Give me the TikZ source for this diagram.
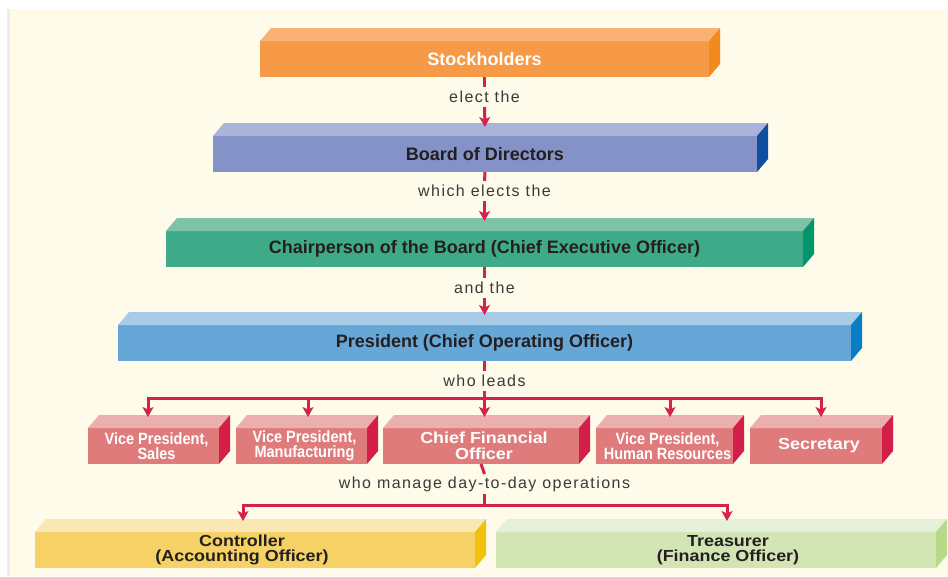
\documentclass[tikz,border=0pt]{standalone}
\usepackage{fontspec}
\setmainfont{Liberation Sans}
\newfontfamily\labfont[LetterSpace=9]{Liberation Sans}
\newfontfamily\widefont[FakeStretch=1.12]{Liberation Sans}
\newfontfamily\narrowfont[FakeStretch=0.89]{Liberation Sans}
\usetikzlibrary{calc,arrows.meta}
\definecolor{bgcream}{HTML}{FEFBEA}
\definecolor{bgstrip}{HTML}{ECECEC}
\definecolor{txtdark}{HTML}{231F20}
\definecolor{lbltxt}{HTML}{3A3A3A}
\definecolor{arrred}{HTML}{D4224B}
\definecolor{orF}{HTML}{F79A48}\definecolor{orT}{HTML}{F9B274}\definecolor{orS}{HTML}{F28A1E}
\definecolor{buF}{HTML}{8592C8}\definecolor{buT}{HTML}{AAB3DA}\definecolor{buS}{HTML}{0D4EA0}
\definecolor{grF}{HTML}{3FAA88}\definecolor{grT}{HTML}{80C2A8}\definecolor{grS}{HTML}{00956A}
\definecolor{blF}{HTML}{67A7D8}\definecolor{blT}{HTML}{A8CBE8}\definecolor{blS}{HTML}{0A7EC2}
\definecolor{pkF}{HTML}{E07B7B}\definecolor{pkT}{HTML}{EBB0AE}\definecolor{pkS}{HTML}{D21E48}
\definecolor{ylF}{HTML}{F6D165}\definecolor{ylT}{HTML}{F9E7B4}\definecolor{ylS}{HTML}{F1C10E}
\definecolor{lgF}{HTML}{D3E5B5}\definecolor{lgT}{HTML}{E5F0D8}\definecolor{lgS}{HTML}{B5DA8A}
\tikzset{
  blk/.style={inner sep=0pt, outer sep=0pt, align=center},
  bigtxt/.style={text=txtdark, font=\fontsize{18}{20}\selectfont\bfseries},
  bigwhite/.style={text=white, font=\fontsize{18}{20}\selectfont\bfseries},
  vptxt/.style={text=white, font=\narrowfont\fontsize{16.3}{15.5}\selectfont\bfseries},
  pinkwide/.style={text=white, font=\widefont\fontsize{16}{16}\selectfont\bfseries},
  bottxt/.style={text=txtdark, font=\widefont\fontsize{16}{15}\selectfont\bfseries},
  lbl/.style={inner sep=0pt, outer sep=0pt, minimum height=20pt, text=lbltxt, font=\labfont\fontsize{16}{18}\selectfont},
  conn/.style={draw=arrred, line width=3pt},
  arrowc/.style={conn, -{Stealth[length=10pt,width=11pt,inset=2.5pt]}}
}
\newcommand\blockbox[9]{%
  \node[blk, fill=#5, minimum width=#3, minimum height=#4, #8] (#1) at #2 {#9};
  \fill[#6] (#1.north west) -- ++(11,-13) -- ($(#1.north east)+(11,-13)$) -- (#1.north east) -- cycle;
  \fill[#7] (#1.north east) -- ++(11,-13) -- ++(0,#4) -- (#1.south east) -- cycle;
}
\begin{document}
\begin{tikzpicture}[x=1pt,y=-1pt]
\useasboundingbox (0,0) rectangle (948,576);
\fill[white] (0,0) rectangle (948,576);
\fill[bgstrip] (7,9) rectangle (10,576);
\fill[bgcream] (10,9) rectangle (948,576);

\blockbox{stock}{(484.5,59)}{449}{36}{orF}{orT}{orS}{bigwhite}{Stockholders}
\blockbox{board}{(485,154)}{544}{36}{buF}{buT}{buS}{bigtxt}{Board of Directors}
\blockbox{chair}{(484.5,249)}{637}{36}{grF}{grT}{grS}{bigtxt}{Chairperson of the Board (Chief Executive Officer)}
\blockbox{pres}{(484.5,343)}{733}{36}{blF}{blT}{blS}{bigtxt}{President (Chief Operating Officer)}

\blockbox{vps}{(153.5,446)}{131}{36}{pkF}{pkT}{pkS}{vptxt}{\hspace*{6pt}Vice President,\\\hspace*{6pt}Sales}
\blockbox{vpm}{(301.5,446)}{131}{36}{pkF}{pkT}{pkS}{vptxt}{\hspace*{6pt}Vice President,\\\hspace*{6pt}Manufacturing}
\blockbox{cfo}{(481,446)}{196}{36}{pkF}{pkT}{pkS}{pinkwide}{\hspace*{6pt}Chief Financial\\\hspace*{6pt}Officer}
\blockbox{vph}{(664.5,446)}{137}{36}{pkF}{pkT}{pkS}{vptxt}{\hspace*{6pt}Vice President,\\\hspace*{6pt}Human Resources}
\blockbox{sec}{(816,446)}{132}{36}{pkF}{pkT}{pkS}{pinkwide}{\hspace*{6pt}Secretary}

\blockbox{ctrl}{(255,550)}{440}{36}{ylF}{ylT}{ylS}{bottxt}{Controller\hspace*{26pt}\\(Accounting Officer)\hspace*{26pt}}
\blockbox{treas}{(716,550)}{440}{36}{lgF}{lgT}{lgS}{bottxt}{\hspace*{24pt}Treasurer\\\hspace*{24pt}(Finance Officer)}

\node[lbl] (l1) at (484.5,97) {elect the};
\node[lbl] (l2) at (484.5,191) {which elects the};
\node[lbl] (l3) at (484.5,288) {and the};
\node[lbl] (l4) at (484.5,381) {who leads};
\node[lbl] (l5) at (484.5,484) {who manage day-to-day operations};

\draw[conn] (stock.south) -- (l1.north);
\draw[arrowc] (l1.south) -- ($(board.north)+(0,-9)$);
\draw[conn] (board.south) -- (l2.north);
\draw[arrowc] (l2.south) -- ($(chair.north)+(0,-10)$);
\draw[conn] (chair.south) -- (l3.north);
\draw[arrowc] (l3.south) -- ($(pres.north)+(0,-10)$);
\draw[conn] (pres.south) -- (l4.north);

\coordinate (b1) at (484.5,398);
\draw[conn] (l4.south) -- (b1);
\draw[arrowc] (b1) -| ($(vps.north)+(-5.5,-11)$);
\draw[arrowc] (b1) -| ($(vpm.north)+(6.5,-11)$);
\draw[arrowc] (b1) -- ($(cfo.north)+(3.5,-11)$);
\draw[arrowc] (b1) -| ($(vph.north)+(5.5,-11)$);
\draw[arrowc] (b1) -| ($(sec.north)+(5,-11)$);

\draw[conn] (cfo.south) -- (l5.north);
\coordinate (b2) at (484.5,505);
\draw[conn] (l5.south) -- (b2);
\draw[arrowc] (b2) -| ($(ctrl.north)+(-12,-11)$);
\draw[arrowc] (b2) -| ($(treas.north)+(11,-11)$);
\end{tikzpicture}
\end{document}
